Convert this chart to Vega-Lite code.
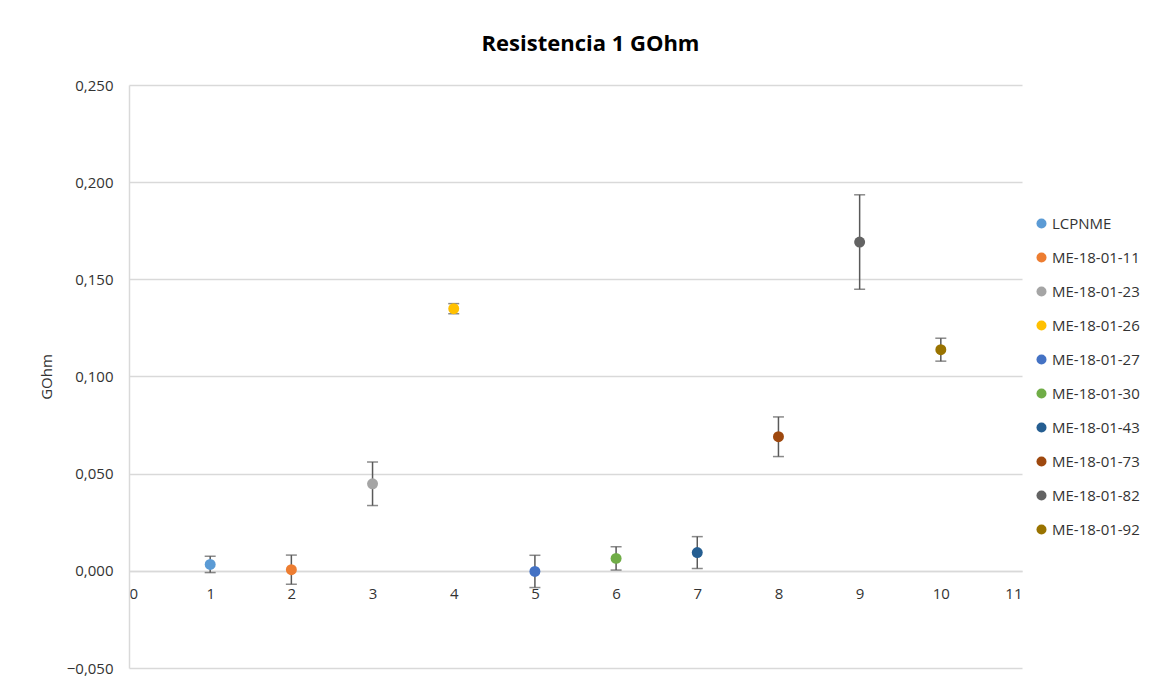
{
  "$schema": "https://vega.github.io/schema/vega-lite/v6.json",
  "width": 893,
  "height": 583,
  "autosize": {"type": "none"},
  "padding": {"left": 129, "top": 85, "right": 151, "bottom": 19},
  "background": "white",
  "config": {
    "font": "Open Sans",
    "view": {"stroke": null},
    "locale": {"number": {"decimal": ",", "thousands": ".", "grouping": [3], "currency": ["", " €"]}}
  },
  "title": {
    "text": "Resistencia 1 GOhm",
    "fontSize": 22,
    "fontWeight": "bold",
    "font": "Open Sans",
    "color": "#000000",
    "anchor": "middle",
    "frame": "group",
    "dx": 15,
    "offset": 22
  },
  "data": {
    "values": [
      {"x": 1, "serie": "LCPNME", "valor": 0.0033, "err": 0.0042},
      {"x": 2, "serie": "ME-18-01-11", "valor": 0.0006, "err": 0.0075},
      {"x": 3, "serie": "ME-18-01-23", "valor": 0.0448, "err": 0.0112},
      {"x": 4, "serie": "ME-18-01-26", "valor": 0.1349, "err": 0.0026},
      {"x": 5, "serie": "ME-18-01-27", "valor": -0.0003, "err": 0.0083},
      {"x": 6, "serie": "ME-18-01-30", "valor": 0.0064, "err": 0.0060},
      {"x": 7, "serie": "ME-18-01-43", "valor": 0.0094, "err": 0.0082},
      {"x": 8, "serie": "ME-18-01-73", "valor": 0.0690, "err": 0.0102},
      {"x": 9, "serie": "ME-18-01-82", "valor": 0.1692, "err": 0.0243},
      {"x": 10, "serie": "ME-18-01-92", "valor": 0.1138, "err": 0.0059}
    ]
  },
  "transform": [
    {"calculate": "datum.valor - datum.err", "as": "lo"},
    {"calculate": "datum.valor + datum.err", "as": "hi"}
  ],
  "encoding": {
    "x": {
      "field": "x",
      "type": "quantitative",
      "scale": {"domain": [0, 11], "nice": false, "zero": false},
      "axis": {
        "title": null,
        "values": [0, 1, 2, 3, 4, 5, 6, 7, 8, 9, 10, 11],
        "format": "d",
        "grid": false,
        "ticks": false,
        "offset": -97,
        "domainColor": "#D9D9D9",
        "domainWidth": 1.5,
        "labelFont": "Open Sans",
        "labelFontSize": 15,
        "labelColor": "#333333",
        "labelPadding": 15
      }
    }
  },
  "layer": [
    {
      "mark": {"type": "rule", "color": "#595959", "strokeWidth": 1.5},
      "encoding": {
        "y": {
          "field": "lo",
          "type": "quantitative",
          "scale": {"domain": [-0.05, 0.25], "nice": false, "zero": false},
          "axis": {
            "title": "GOhm",
            "titleFont": "Open Sans",
            "titleFontSize": 15,
            "titleFontWeight": "normal",
            "titleColor": "#333333",
            "titlePadding": 12,
            "values": [-0.05, 0, 0.05, 0.1, 0.15, 0.2, 0.25],
            "format": ".3f",
            "grid": true,
            "gridColor": "#D9D9D9",
            "gridWidth": 1.5,
            "ticks": false,
            "domainColor": "#D9D9D9",
            "domainWidth": 1.5,
            "labelFont": "Open Sans",
            "labelFontSize": 15,
            "labelColor": "#333333",
            "labelPadding": 16
          }
        },
        "y2": {"field": "hi"}
      }
    },
    {
      "mark": {"type": "tick", "orient": "horizontal", "color": "#595959", "thickness": 1.5, "size": 11},
      "encoding": {"y": {"field": "lo", "type": "quantitative"}}
    },
    {
      "mark": {"type": "tick", "orient": "horizontal", "color": "#595959", "thickness": 1.5, "size": 11},
      "encoding": {"y": {"field": "hi", "type": "quantitative"}}
    },
    {
      "mark": {"type": "circle", "size": 120, "opacity": 1},
      "encoding": {
        "y": {"field": "valor", "type": "quantitative"},
        "color": {
          "field": "serie",
          "type": "nominal",
          "scale": {
            "domain": ["LCPNME", "ME-18-01-11", "ME-18-01-23", "ME-18-01-26", "ME-18-01-27", "ME-18-01-30", "ME-18-01-43", "ME-18-01-73", "ME-18-01-82", "ME-18-01-92"],
            "range": ["#5B9BD5", "#ED7D31", "#A5A5A5", "#FFC000", "#4472C4", "#70AD47", "#255E91", "#9E480E", "#636363", "#997300"]
          },
          "legend": {
            "title": null,
            "orient": "none",
            "legendX": 905,
            "legendY": 131,
            "symbolType": "circle",
            "symbolSize": 100,
            "symbolOpacity": 1,
            "labelFont": "Open Sans",
            "labelFontSize": 15,
            "labelColor": "#333333",
            "labelOffset": 3,
            "rowPadding": 18
          }
        }
      }
    }
  ]
}
